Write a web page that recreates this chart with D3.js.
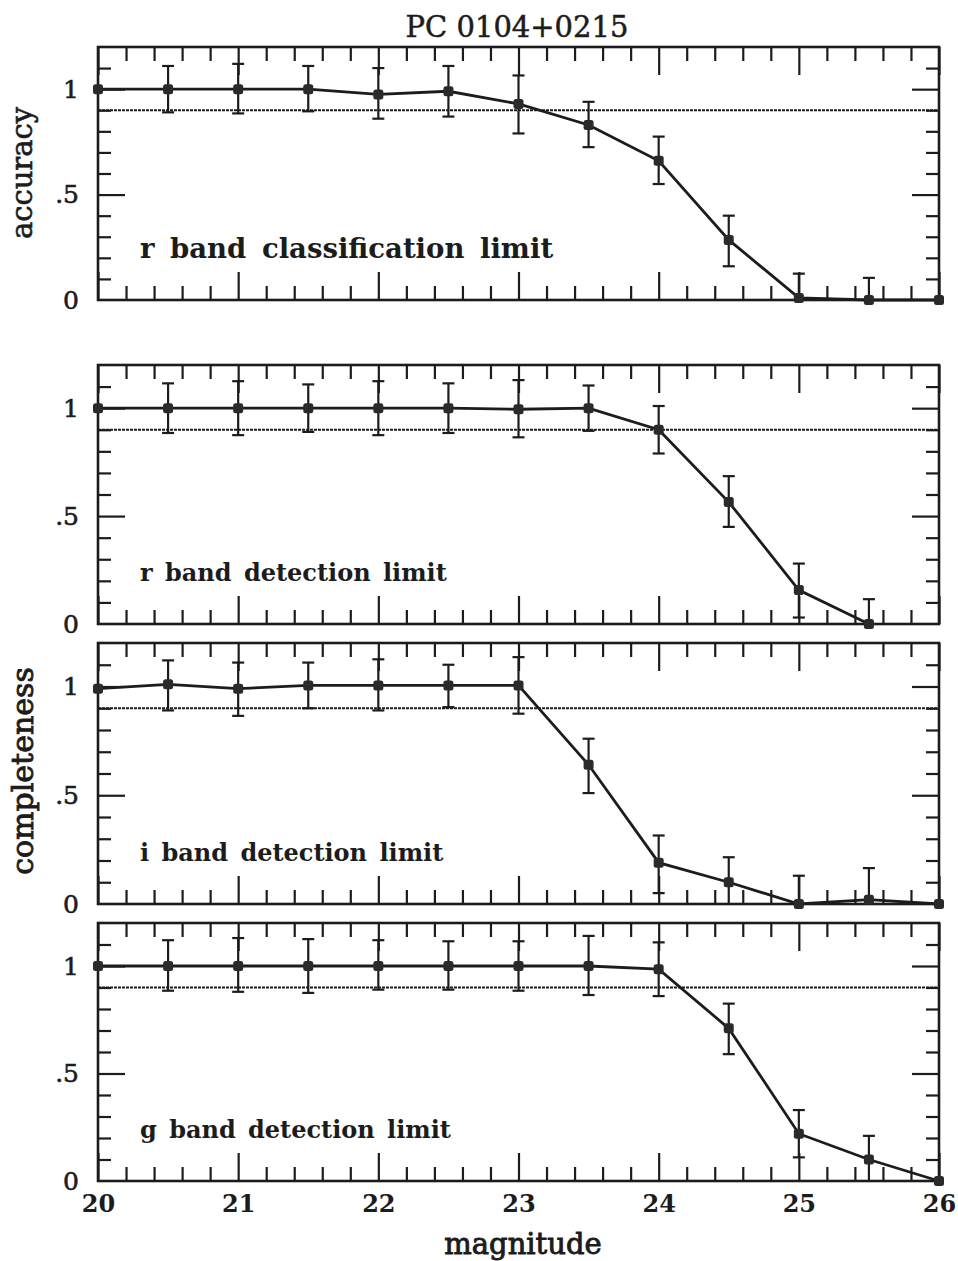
<!DOCTYPE html>
<html>
<head>
<meta charset="utf-8">
<script src="https://cdn.jsdelivr.net/npm/d3@7"></script>
<style>
  body { margin: 0; background: #fff; }
  svg text { font-family: "DejaVu Serif", serif; fill: #1c1c1c; }
</style>
</head>
<body>
<svg id="chart" width="958" height="1261"></svg>
<script>
// magnitude bins
var magnitude = [20, 20.5, 21, 21.5, 22, 22.5, 23, 23.5, 24, 24.5, 25, 25.5, 26];

// r band classification (accuracy)
var rClassValue = [1.0, 1.0, 1.0, 1.0, 0.975, 0.99, 0.93, 0.83, 0.66, 0.285, 0.01, 0.0, 0.0];
var rClassUpper = [null, 1.11, 1.12, 1.11, 1.10, 1.11, 1.065, 0.94, 0.775, 0.40, 0.125, 0.105, null];
var rClassLower = [null, 0.89, 0.885, 0.895, 0.86, 0.87, 0.79, 0.725, 0.55, 0.16, 0, 0, null];

// r band detection (completeness)
var rDetValue = [1.0, 1.0, 1.0, 1.0, 1.0, 1.0, 0.995, 1.0, 0.9, 0.565, 0.157, 0.0, null];
var rDetUpper = [null, 1.115, 1.125, 1.11, 1.125, 1.115, 1.13, 1.105, 1.01, 0.685, 0.28, 0.115, null];
var rDetLower = [null, 0.885, 0.875, 0.89, 0.875, 0.885, 0.865, 0.895, 0.79, 0.45, 0.03, 0, null];

// i band detection (completeness)
var iDetValue = [0.99, 1.01, 0.99, 1.005, 1.005, 1.005, 1.005, 0.64, 0.19, 0.10, 0.0, 0.02, 0.0];
var iDetUpper = [null, 1.12, 1.11, 1.11, 1.125, 1.10, 1.135, 0.76, 0.315, 0.215, 0.13, 0.165, null];
var iDetLower = [null, 0.89, 0.865, 0.9, 0.89, 0.905, 0.875, 0.51, 0.05, 0, 0, 0, null];

// g band detection (completeness)
var gDetValue = [1.0, 1.0, 1.0, 1.0, 1.0, 1.0, 1.0, 1.0, 0.985, 0.71, 0.22, 0.10, 0.0];
var gDetUpper = [null, 1.12, 1.13, 1.125, 1.12, 1.115, 1.115, 1.14, 1.11, 0.825, 0.33, 0.21, null];
var gDetLower = [null, 0.885, 0.88, 0.875, 0.89, 0.89, 0.885, 0.865, 0.86, 0.59, 0.11, 0, null];

var threshold = 0.9;
var yTickLabels = ["0", ".5", "1"];
var xTickLabels = ["20", "21", "22", "23", "24", "25", "26"];

var ink = "#1c1c1c";
var svg = d3.select("#chart");

var panels = [
    {value: rClassValue, upper: rClassUpper, lower: rClassLower, label: "r band classification limit", top: 47, bottom: 300, size: 27.5, ws: 6},
    {value: rDetValue, upper: rDetUpper, lower: rDetLower, label: "r band detection limit", top: 365, bottom: 624, size: 24, ws: 4},
    {value: iDetValue, upper: iDetUpper, lower: iDetLower, label: "i band detection limit", top: 643, bottom: 904, size: 24, ws: 4},
    {value: gDetValue, upper: gDetUpper, lower: gDetLower, label: "g band detection limit", top: 923, bottom: 1181, size: 24, ws: 4}
];

var left = 98, right = 939;
var x = d3.scaleLinear().domain([20, 26]).range([left, right]);

var xMajor = d3.range(20, 26.001, 1);
var xMinor = d3.range(20.2, 26, 0.2).filter(d => Math.abs(d - Math.round(d)) > 0.05);
var yMajor = [0.5, 1];
var yMinor = d3.range(0.1, 1.15, 0.1).filter(d => Math.abs(d - 0.5) > 0.01 && Math.abs(d - 1) > 0.01);

function styleAxis(sel) {
    sel.select(".domain").remove();
    sel.selectAll(".tick line").attr("stroke", ink).attr("stroke-width", 2.2);
}

panels.forEach(function(p, k) {
    var y = d3.scaleLinear().domain([0, 1.2]).range([p.bottom, p.top]);
    var g = svg.append("g").attr("class", "panel");

    // ticks on all four sides, pointing inward
    g.append("g").attr("transform", "translate(0," + p.bottom + ")")
        .call(d3.axisBottom(x).tickValues(xMajor).tickSize(-28).tickFormat("")).call(styleAxis);
    g.append("g").attr("transform", "translate(0," + p.bottom + ")")
        .call(d3.axisBottom(x).tickValues(xMinor).tickSize(-14).tickFormat("")).call(styleAxis);
    g.append("g").attr("transform", "translate(0," + p.top + ")")
        .call(d3.axisTop(x).tickValues(xMajor).tickSize(-28).tickFormat("")).call(styleAxis);
    g.append("g").attr("transform", "translate(0," + p.top + ")")
        .call(d3.axisTop(x).tickValues(xMinor).tickSize(-14).tickFormat("")).call(styleAxis);
    g.append("g").attr("transform", "translate(" + left + ",0)")
        .call(d3.axisLeft(y).tickValues(yMajor).tickSize(-27).tickFormat("")).call(styleAxis);
    g.append("g").attr("transform", "translate(" + left + ",0)")
        .call(d3.axisLeft(y).tickValues(yMinor).tickSize(-13).tickFormat("")).call(styleAxis);
    g.append("g").attr("transform", "translate(" + right + ",0)")
        .call(d3.axisRight(y).tickValues(yMajor).tickSize(-27).tickFormat("")).call(styleAxis);
    g.append("g").attr("transform", "translate(" + right + ",0)")
        .call(d3.axisRight(y).tickValues(yMinor).tickSize(-13).tickFormat("")).call(styleAxis);

    // y labels
    var yl = g.append("g").attr("transform", "translate(" + left + ",0)")
        .call(d3.axisLeft(y).tickValues([0, 0.5, 1]).tickSize(0).tickPadding(19)
            .tickFormat((d, i) => yTickLabels[i]));
    yl.select(".domain").remove();
    yl.selectAll("text").style("font-family", "'DejaVu Serif', serif").attr("font-size", 25)
        .attr("fill", ink).attr("stroke", ink).attr("stroke-width", 0.6);

    // frame
    g.append("rect")
        .attr("x", left).attr("y", p.top)
        .attr("width", right - left).attr("height", p.bottom - p.top)
        .attr("fill", "none").attr("stroke", ink).attr("stroke-width", 2.6);

    // 90% reference line
    g.append("line")
        .attr("x1", left).attr("x2", right)
        .attr("y1", y(threshold)).attr("y2", y(threshold))
        .attr("stroke", ink).attr("stroke-width", 1.8).attr("stroke-dasharray", "3,1");

    var pts = magnitude.map((m, i) => ({m: m, v: p.value[i], hi: p.upper[i], lo: p.lower[i]}));

    // error bars
    var eb = g.selectAll(".err").data(pts.filter(d => d.hi != null)).enter().append("g").attr("class", "err");
    eb.append("line")
        .attr("x1", d => x(d.m)).attr("x2", d => x(d.m))
        .attr("y1", d => y(d.lo)).attr("y2", d => y(d.hi))
        .attr("stroke", ink).attr("stroke-width", 2.2);
    eb.append("line")
        .attr("x1", d => x(d.m) - 6).attr("x2", d => x(d.m) + 6)
        .attr("y1", d => y(d.hi)).attr("y2", d => y(d.hi))
        .attr("stroke", ink).attr("stroke-width", 2.2);
    eb.filter(d => d.lo > 0).append("line")
        .attr("x1", d => x(d.m) - 6).attr("x2", d => x(d.m) + 6)
        .attr("y1", d => y(d.lo)).attr("y2", d => y(d.lo))
        .attr("stroke", ink).attr("stroke-width", 2.2);

    // data line
    var line = d3.line().defined(d => d.v != null).x(d => x(d.m)).y(d => y(d.v));
    g.append("path").datum(pts)
        .attr("d", line).attr("fill", "none")
        .attr("stroke", ink).attr("stroke-width", 2.8);

    // markers
    g.selectAll(".pt").data(pts.filter(d => d.v != null)).enter().append("rect")
        .attr("class", "pt")
        .attr("x", d => x(d.m) - 5).attr("y", d => y(d.v) - 5)
        .attr("width", 10).attr("height", 10).attr("rx", 2.5)
        .attr("fill", "#2a2a2a");

    // panel label
    g.append("text")
        .attr("x", 140).attr("y", y(0.2))
        .attr("font-size", p.size).attr("font-weight", "bold")
        .attr("word-spacing", p.ws)
        .text(p.label);

    // x tick labels on last panel
    if (k === panels.length - 1) {
        var xl = g.append("g").attr("transform", "translate(0," + p.bottom + ")")
            .call(d3.axisBottom(x).tickValues(xMajor).tickSize(0).tickPadding(14)
                .tickFormat((d, i) => xTickLabels[i]));
        xl.select(".domain").remove();
        xl.selectAll("text").style("font-family", "'DejaVu Serif', serif")
            .attr("font-size", 24).attr("font-weight", "bold").attr("fill", ink);
    }
});

// titles
svg.append("text")
    .attr("x", 517).attr("y", 37)
    .attr("text-anchor", "middle").attr("font-size", 29)
    .attr("stroke", ink).attr("stroke-width", 0.5)
    .text("PC 0104+0215");

svg.append("text")
    .attr("transform", "translate(32,173) rotate(-90)")
    .attr("text-anchor", "middle").attr("font-size", 29)
    .attr("stroke", ink).attr("stroke-width", 0.6)
    .text("accuracy");

svg.append("text")
    .attr("transform", "translate(33,771) rotate(-90)")
    .attr("text-anchor", "middle").attr("font-size", 30)
    .attr("stroke", ink).attr("stroke-width", 0.9)
    .text("completeness");

svg.append("text")
    .attr("x", 523).attr("y", 1254)
    .attr("text-anchor", "middle").attr("font-size", 29)
    .attr("stroke", ink).attr("stroke-width", 0.9)
    .text("magnitude");
</script>
</body>
</html>
